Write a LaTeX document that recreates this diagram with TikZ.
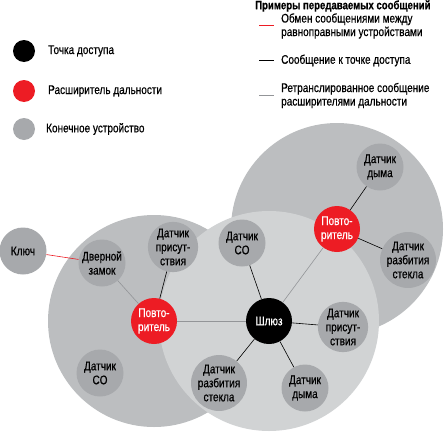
\documentclass[tikz,border=0pt]{standalone}
\usepackage{fontspec}
\setmainfont[FakeStretch=0.80,FakeBold=0.6]{Liberation Sans}
\definecolor{zonedark}{HTML}{BCBEC0}
\definecolor{zonelight}{HTML}{D1D3D4}
\definecolor{devgray}{HTML}{A7A9AC}
\definecolor{repred}{HTML}{ED1C24}
\definecolor{relaygray}{HTML}{939598}
\begin{document}
\begin{tikzpicture}[x=1pt,y=-1pt,
  dev/.style={circle, fill=devgray, minimum size=47pt, inner sep=0pt, align=center, font=\fontsize{12.5}{14}\selectfont},
  rep/.style={dev, fill=repred, text=white, minimum size=46pt},
  gw/.style={dev, fill=black, text=white, minimum size=46pt},
  dot/.style={circle, minimum size=22pt, inner sep=0pt},
  legtext/.style={anchor=west, inner sep=0pt, align=left, font=\fontsize{12.5}{13.5}\selectfont},
  peer/.style={draw=repred, line width=.6pt},
  toap/.style={draw=black, line width=.6pt},
  relay/.style={draw=relaygray, line width=.6pt}]
\useasboundingbox (0,0) rectangle (446,431);
% coverage zones
\fill[zonedark] (337,229) circle (106);
\fill[zonedark] (154,321) circle (106);
\fill[zonelight] (269,321) circle (110);
% devices
\node[dev] (key) at (23,251) {Ключ};
\node[dev] (lock) at (102,263) {Дверной\\замок};
\node[dev] (presl) at (173,247) {Датчик\\присут-\\ствия};
\node[dev] (col) at (100,373) {Датчик\\CO};
\node[rep] (repl) at (154,321) {Повто-\\ритель};
\node[gw] (gw) at (269,321) {Шлюз};
\node[dev] (coc) at (242,243) {Датчик\\CO};
\node[dev] (glassb) at (219,383) {Датчик\\разбития\\стекла};
\node[dev] (smokeb) at (305,388) {Датчик\\дыма};
\node[dev] (presr) at (343,327) {Датчик\\присут-\\ствия};
\node[rep] (repr) at (337,229) {Повто-\\ритель};
\node[dev] (smoket) at (380,167) {Датчик\\дыма};
\node[dev] (glassr) at (408,260) {Датчик\\разбития\\стекла};
% messages
\draw[peer] (key) -- (lock);
\draw[relay] (lock) -- (repl);
\draw[toap] (presl) -- (repl);
\draw[relay] (repl) -- (gw);
\draw[relay] (repr) -- (gw);
\draw[toap] (coc) -- (gw);
\draw[toap] (presr) -- (gw);
\draw[toap] (smokeb) -- (gw);
\draw[toap] (glassb) -- (gw);
\draw[toap] (repr) -- (smoket);
\draw[toap] (repr) -- (glassr);
% legend, node kinds
\node[dot, fill=black] (kap) at (24,51) {};
\node[legtext] (kaptext) at (48,51) {Точка доступа};
\node[dot, fill=repred] (krep) at (24,91) {};
\node[legtext] (kreptext) at (48,91) {Расширитель дальности};
\node[dot, fill=devgray] (kdev) at (24,129) {};
\node[legtext] (kdevtext) at (46,129) {Конечное устройство};
% legend, message kinds
\node[legtext, font=\bfseries\fontsize{12}{13.5}\selectfont] (msgtitle) at (255,6) {Примеры передаваемых сообщений};
\coordinate (p1) at (259,25.5);
\coordinate (p2) at (274,25.5);
\draw[peer] (p1) -- (p2);
\node[legtext] (peertext) at (281,26) {Обмен сообщениями между\\равноправными устройствами};
\coordinate (a1) at (259,60.5);
\coordinate (a2) at (274,60.5);
\draw[toap] (a1) -- (a2);
\node[legtext] (toaptext) at (281,60.5) {Сообщение к точке доступа};
\coordinate (r1) at (259,95.5);
\coordinate (r2) at (274,95.5);
\draw[relay] (r1) -- (r2);
\node[legtext] (relaytext) at (281,95.5) {Ретранслированное сообщение\\расширителями дальности};
\end{tikzpicture}
\end{document}
